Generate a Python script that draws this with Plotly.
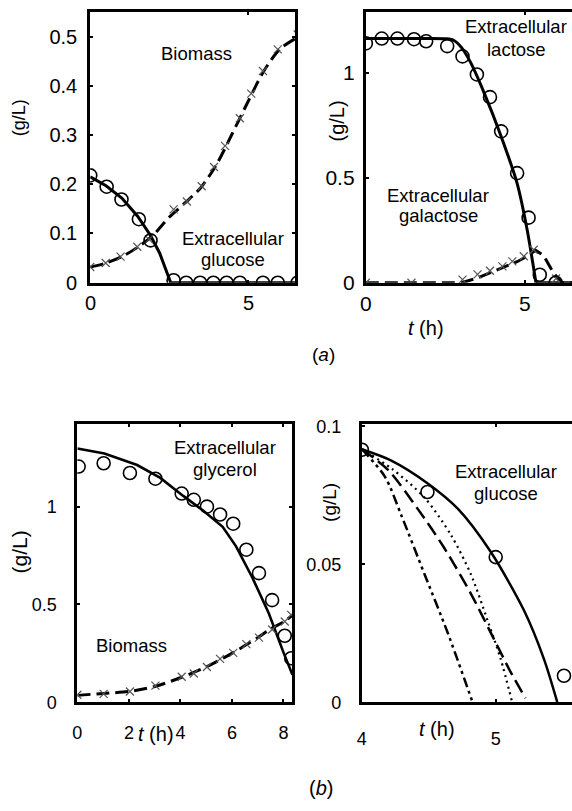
import plotly.graph_objects as go

# ---------------- data ----------------
# (a) left: glucose + biomass
p1_glc_t_obs = [0, 0.52, 0.99, 1.54, 1.91, 2.64, 3.04, 3.48, 3.90, 4.32, 4.74, 5.47, 5.94, 6.57]
p1_glc_obs = [0.218, 0.195, 0.169, 0.129, 0.086, 0.005, 0, 0, 0, 0, 0, 0, 0, 0]
p1_glc_t_fit = [0, 0.5, 1.0, 1.5, 1.9, 2.2, 2.55, 6.6]
p1_glc_fit = [0.215, 0.197, 0.172, 0.135, 0.097, 0.06, 0.0, 0.0]
p1_bio_t_obs = [0, 0.49, 0.96, 1.49, 1.86, 2.64, 3.06, 3.53, 3.92, 4.27, 4.74, 5.10, 5.47, 5.94, 6.57]
p1_bio_obs = [0.032, 0.040, 0.053, 0.073, 0.088, 0.149, 0.165, 0.196, 0.235, 0.278, 0.334, 0.384, 0.430, 0.474, 0.504]
p1_bio_t_fit = [0, 0.5, 1.0, 1.5, 2.0, 2.5, 3.0, 3.5, 4.0, 4.5, 5.0, 5.5, 6.0, 6.5]
p1_bio_fit = [0.032, 0.040, 0.053, 0.072, 0.097, 0.133, 0.162, 0.193, 0.240, 0.303, 0.368, 0.430, 0.474, 0.496]

# (a) right: lactose + galactose
p2_lac_t_obs = [0, 0.5, 0.99, 1.51, 1.89, 2.55, 3.03, 3.48, 3.89, 4.24, 4.74, 5.10, 5.45, 5.95]
p2_lac_obs = [1.14, 1.163, 1.163, 1.16, 1.15, 1.127, 1.078, 0.992, 0.884, 0.721, 0.522, 0.31, 0.038, 0.0]
p2_lac_t_fit = [0, 1.5, 2.5, 2.75, 3.0, 3.29, 3.7, 4.22, 4.74, 5.05, 5.33]
p2_lac_fit = [1.163, 1.163, 1.162, 1.155, 1.12, 1.047, 0.907, 0.705, 0.473, 0.256, 0.0]
p2_lac_t_tail = [5.33, 6.6]
p2_lac_tail = [0.0, 0.0]
p2_gal_t_fit = [0, 3.0, 3.5, 4.12, 4.74, 5.1, 5.31, 5.57, 5.88, 6.14, 6.6]
p2_gal_fit = [0, 0, 0.023, 0.062, 0.1, 0.13, 0.155, 0.13, 0.047, 0, 0]
p2_gal_t_obs = [0, 1.43, 3.03, 3.5, 3.89, 4.28, 4.59, 4.95, 5.26, 5.96]
p2_gal_obs = [0, 0, 0.015, 0.04, 0.057, 0.078, 0.102, 0.126, 0.157, 0.02]

# (b) left: glycerol + biomass
p3_gly_t_obs = [0.05, 1.02, 2.04, 3.03, 4.05, 4.52, 5.03, 5.54, 6.05, 6.56, 7.05, 7.56, 8.05, 8.3]
p3_gly_obs = [1.205, 1.222, 1.172, 1.143, 1.067, 1.035, 1.0, 0.96, 0.913, 0.78, 0.66, 0.522, 0.34, 0.225]
p3_gly_t_fit = [0, 1.05, 2.32, 3.22, 4.11, 4.88, 5.64, 6.16, 6.79, 7.43, 8.0, 8.35]
p3_gly_fit = [1.297, 1.272, 1.213, 1.147, 1.055, 0.98, 0.897, 0.797, 0.638, 0.455, 0.255, 0.14]
p3_bio_t_obs = [0, 1.02, 2.04, 3.03, 4.05, 4.52, 5.03, 5.54, 6.05, 6.56, 7.05, 7.56, 8.05, 8.3]
p3_bio_obs = [0.038, 0.043, 0.055, 0.085, 0.13, 0.147, 0.18, 0.222, 0.252, 0.297, 0.33, 0.372, 0.413, 0.447]
p3_bio_t_fit = [0, 1, 2, 3, 4, 5, 6, 7, 7.5, 8, 8.35]
p3_bio_fit = [0.035, 0.045, 0.055, 0.08, 0.125, 0.18, 0.25, 0.33, 0.375, 0.41, 0.445]

# (b) right: glucose, four model variants
p4_glc_t_obs = [4.0, 4.49, 5.0, 5.51]
p4_glc_obs = [0.0915, 0.0762, 0.0526, 0.0096]
p4_solid_t = [4.0, 4.22, 4.49, 4.72, 4.96, 5.21, 5.36, 5.46]
p4_solid = [0.0917, 0.0876, 0.0794, 0.070, 0.0547, 0.0334, 0.0157, 0.0]
p4_dot_t = [4.0, 4.222, 4.469, 4.667, 4.815, 4.938, 5.037, 5.123]
p4_dot = [0.0917, 0.0847, 0.0741, 0.0605, 0.0463, 0.0298, 0.0157, 0.0]
p4_dash_t = [4.0, 4.198, 4.42, 4.617, 4.815, 4.988, 5.111, 5.222]
p4_dash = [0.0917, 0.0841, 0.0699, 0.0558, 0.0393, 0.0228, 0.011, 0.0015]
p4_dashdot_t = [4.0, 4.173, 4.296, 4.469, 4.642, 4.827]
p4_dashdot = [0.0917, 0.0817, 0.0676, 0.0463, 0.0251, 0.0]

# ticks
p1_xticks = [0, 5]
p1_xticktext = ["0", "5"]
p1_yticks = [0, 0.1, 0.2, 0.3, 0.4, 0.5]
p1_yticktext = ["0", "0.1", "0.2", "0.3", "0.4", "0.5"]
p2_xticks = [0, 5]
p2_xticktext = ["0", "5"]
p2_yticks = [0, 0.5, 1]
p2_yticktext = ["0", "0.5", "1"]
p3_xticks = [0, 2, 4, 6, 8]
p3_yticks = [0, 0.5, 1]
p3_yticktext = ["0", "0.5", "1"]
p4_xticks = [4, 5]
p4_yticks = [0, 0.05, 0.1]
p4_yticktext = ["0", "0.05", "0.1"]

FONT = "Liberation Sans, Arial, Helvetica, sans-serif"
W, H = 572, 811

fig = go.Figure()

def line(x, y, xa, ya, dash="solid", width=3, color="black", shape="linear"):
    fig.add_trace(go.Scatter(x=x, y=y, xaxis=xa, yaxis=ya, mode="lines",
                             line=dict(color=color, width=width, dash=dash, shape=shape,
                                       smoothing=0.8 if shape == "spline" else None),
                             showlegend=False, hoverinfo="skip"))

def circles(x, y, xa, ya):
    fig.add_trace(go.Scatter(x=x, y=y, xaxis=xa, yaxis=ya, mode="markers",
                             marker=dict(symbol="circle-open", size=13, color="black",
                                         line=dict(width=1.6, color="black")),
                             showlegend=False, hoverinfo="skip"))

def crosses(x, y, xa, ya):
    fig.add_trace(go.Scatter(x=x, y=y, xaxis=xa, yaxis=ya, mode="markers",
                             marker=dict(symbol="x-thin-open", size=8, color="#555",
                                         line=dict(width=1.2, color="#555")),
                             showlegend=False, hoverinfo="skip"))

DASH = "13px,6px"
SP = "spline"
# panel 1
line(p1_bio_t_fit, p1_bio_fit, "x", "y", dash=DASH, shape=SP)
line(p1_glc_t_fit, p1_glc_fit, "x", "y")
crosses(p1_bio_t_obs, p1_bio_obs, "x", "y")
circles(p1_glc_t_obs, p1_glc_obs, "x", "y")
# panel 2
line(p2_gal_t_fit, p2_gal_fit, "x2", "y2", dash=DASH)
line(p2_lac_t_fit, p2_lac_fit, "x2", "y2", shape=SP)
line(p2_lac_t_tail, p2_lac_tail, "x2", "y2")
crosses(p2_gal_t_obs, p2_gal_obs, "x2", "y2")
circles(p2_lac_t_obs, p2_lac_obs, "x2", "y2")
# panel 3
line(p3_bio_t_fit, p3_bio_fit, "x3", "y3", dash=DASH, shape=SP)
line(p3_gly_t_fit, p3_gly_fit, "x3", "y3", width=2.6)
crosses(p3_bio_t_obs, p3_bio_obs, "x3", "y3")
circles(p3_gly_t_obs, p3_gly_obs, "x3", "y3")
# panel 4
line(p4_solid_t, p4_solid, "x4", "y4", width=2.5, shape=SP)
line(p4_dot_t, p4_dot, "x4", "y4", dash="2px,4px", width=2.2, shape=SP)
line(p4_dash_t, p4_dash, "x4", "y4", dash="14px,6px", width=2.5, shape=SP)
line(p4_dashdot_t, p4_dashdot, "x4", "y4", dash="10px,4px,3px,4px,3px,4px", width=2.5, shape=SP)
circles(p4_glc_t_obs, p4_glc_obs, "x4", "y4")


def px_dom(a, b, total):
    return [a / total, b / total]

def py_dom(top, bottom):
    return [1 - bottom / H, 1 - top / H]

def axis(domain, rng, tickvals, ticktext, anchor, mirror, size, standoff, show=True):
    return dict(domain=domain, range=rng, tickvals=tickvals, ticktext=ticktext,
                anchor=anchor, showline=True, linewidth=3, linecolor="black",
                mirror=mirror, ticks="inside", ticklen=3, tickwidth=2, tickcolor="black",
                showgrid=False, zeroline=False, ticklabelstandoff=standoff,
                showticklabels=show,
                tickfont=dict(family=FONT, size=size, color="black"), fixedrange=True)

top_dom = py_dom(5, 282)
bot_dom = py_dom(426, 711)

fig.update_layout(
    width=W, height=H, margin=dict(l=0, r=0, t=0, b=0),
    paper_bgcolor="white", plot_bgcolor="white",
    xaxis=axis(px_dom(86, 293, W), [0, 6.5], p1_xticks, p1_xticktext, "y", "ticks", 20, 0, show=False),
    yaxis=axis(top_dom, [0, 0.55], p1_yticks, p1_yticktext, "x", "ticks", 20, 6),
    xaxis2=axis(px_dom(364, 572, W), [0, 6.46], p2_xticks, p2_xticktext, "y2", "ticks", 21, 0, show=False),
    yaxis2=axis(top_dom, [0, 1.29], p2_yticks, p2_yticktext, "x2", False, 21, 4),
    xaxis3=axis(px_dom(73, 290, W), [0, 8.35], p3_xticks, [str(v) for v in p3_xticks], "y3", "ticks", 18, 12),
    yaxis3=axis(bot_dom, [0, 1.425], p3_yticks, p3_yticktext, "x3", "ticks", 18, 14),
    xaxis4=axis(px_dom(360, 572, W), [4, 5.57], p4_xticks, [str(v) for v in p4_xticks], "y4", "ticks", 18, 18),
    yaxis4=axis(bot_dom, [0, 0.101], p4_yticks, p4_yticktext, "x4", False, 18, 14),
)

# x tick labels for the (a) panels, positioned through the axis scale
for xa, vals, texts, size in (("x", p1_xticks, p1_xticktext, 20), ("x2", p2_xticks, p2_xticktext, 21)):
    for v, t in zip(vals, texts):
        fig.add_annotation(x=v, y=1 - 303 / H, xref=xa, yref="paper", text=t, showarrow=False,
                           xanchor="center", yanchor="middle",
                           font=dict(family=FONT, size=size, color="black"))

LBL = 18.5
def txt(x, y, s, xref, yref, size=LBL):
    fig.add_annotation(x=x, y=y, xref=xref, yref=yref, text=s, showarrow=False,
                       xanchor="center", yanchor="middle",
                       font=dict(family=FONT, size=size, color="black"))

# in-plot labels (data coordinates)
txt(3.36, 0.465, "Biomass", "x", "y")
txt(4.52, 0.089, "Extracellular", "x", "y")
txt(4.52, 0.048, "glucose", "x", "y")
txt(4.72, 1.22, "Extracellular", "x2", "y2")
txt(4.72, 1.113, "lactose", "x2", "y2")
txt(2.27, 0.415, "Extracellular", "x2", "y2")
txt(2.27, 0.321, "galactose", "x2", "y2")
txt(5.73, 1.305, "Extracellular", "x3", "y3")
txt(5.73, 1.19, "glycerol", "x3", "y3")
txt(2.12, 0.29, "Biomass", "x3", "y3")
txt(5.074, 0.0836, "Extracellular", "x4", "y4")
txt(5.074, 0.0758, "glucose", "x4", "y4")

# axis titles and panel captions (paper coordinates)
def ptxt(px, py, s, size, angle=0):
    fig.add_annotation(x=px / W, y=1 - py / H, xref="paper", yref="paper", text=s,
                       showarrow=False, xanchor="center", yanchor="middle", textangle=angle,
                       font=dict(family=FONT, size=size, color="black"))

ptxt(15, 113, "(g/L)", 18, -90)
ptxt(335, 117, "(g/L)", 20, -90)
ptxt(15, 557, "(g/L)", 21, -90)
ptxt(328, 507, "(g/L)", 19, -90)
ptxt(425, 328, "<i>t</i> (h)", 20)
ptxt(152, 743, "<i>t</i> (h)", 20)
ptxt(436, 738, "<i>t</i> (h)", 20)
ptxt(321, 355, "(<i>a</i>)", 19)
ptxt(319, 799, "(<i>b</i>)", 20)

fig.write_html("out.html")
